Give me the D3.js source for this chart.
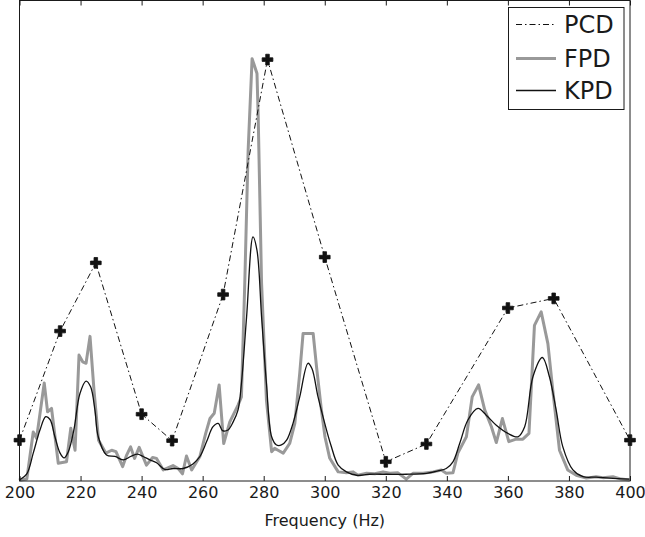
<!DOCTYPE html>
<html>
<head>
<meta charset="utf-8">
<script src="https://cdn.jsdelivr.net/npm/d3@7"></script>
<style>
  html, body { margin: 0; padding: 0; background: #fff; }
  svg { display: block; font-family: "DejaVu Sans", sans-serif; }
</style>
</head>
<body>
<svg id="chart" width="645" height="537"></svg>
<script>
// Frequency ticks along the bottom and top edges
const xTicks = [200, 220, 240, 260, 280, 300, 320, 340, 360, 380, 400];

// PCD: coarse estimate at a few frequencies (Hz, relative amplitude)
const pcdHz  = [200, 213.3, 225, 240, 250, 266.7, 281.25, 300, 320, 333.3, 360, 375, 400];
const pcdVal = [8.5, 31.2, 45.4, 13.9, 8.4, 38.8, 87.7, 46.6, 4.0, 7.7, 36.0, 38.0, 8.5];

// FPD: fine-grained periodogram
const fpdHz = [200, 200.5, 202.4, 204.5, 205.6, 208.1, 209.2, 210.5, 212.7, 215.4, 216.8, 218.2,
  219.5, 220.7, 221.8, 223.1, 224.4, 225.9, 228.3, 230.2, 231.6, 233.8, 235.1, 236.4, 237.7,
  239.2, 241.6, 243.6, 244.9, 247.1, 250.3, 252.0, 253.4, 254.7, 256.4, 259.1, 261.0, 262.4,
  263.8, 265.4, 266.9, 268.9, 271.6, 272.7, 273.8, 274.9, 276.2, 277.8, 278.2, 279.3, 280.9,
  282.6, 283.6, 284.7, 286.4, 288.5, 290.2, 291.8, 292.9, 296.2, 297.3, 298.9, 300.1, 301.6,
  304.4, 307.1, 309.3, 310.9, 313.7, 316.4, 319.1, 321.3, 324.0, 326.7, 328.9, 332.2, 335.5,
  338.2, 339.8, 342.0, 343.6, 346.4, 348.3, 350.4, 352.4, 354.6, 356.2, 358.2, 360.3, 362.7,
  364.9, 366.9, 368.7, 370.9, 373.1, 374.7, 376.9, 379.6, 382.4, 385.7, 388.9, 391.1, 394.4,
  397.1, 399.8];
const fpdVal = [0.6, 0.2, 0.4, 10.2, 8.9, 20.4, 14.4, 15.1, 3.7, 4.0, 11.0, 6.4,
  26.2, 24.8, 24.5, 30.1, 18.9, 8.5, 5.8, 6.4, 6.1, 3.0, 5.4, 7.1, 4.7,
  7.0, 3.3, 4.9, 4.7, 2.3, 3.2, 2.6, 1.5, 5.2, 2.3, 5.1, 9.9, 13.0,
  14.1, 20.0, 7.8, 12.3, 15.8, 17.5, 41.2, 68.8, 87.9, 84.8, 75.7, 41.2, 16.8,
  6.1, 6.8, 6.4, 5.8, 7.8, 12.0, 22.4, 30.7, 30.7, 23.8, 14.8, 9.1, 4.8,
  1.9, 1.7, 1.9, 1.2, 1.6, 1.5, 1.9, 1.6, 1.7, 0.4, 1.6, 1.6, 1.9,
  2.3, 1.6, 1.7, 5.8, 9.2, 17.5, 20.0, 14.8, 11.3, 8.0, 13.0, 8.2, 8.7,
  8.7, 9.9, 32.4, 35.2, 28.6, 18.9, 6.4, 2.3, 1.2, 0.6, 0.9, 0.7, 0.9,
  0.4, 0.2];

// KPD: smoothed spectral estimate
const kpdHz = [200, 202.4, 204.5, 206.7, 208.6, 210.0, 211.6, 213.3, 214.6, 216.0, 217.8, 219.8,
  221.8, 223.3, 224.7, 225.8, 228.5, 231.3, 234.0, 236.4, 238.6, 240.5, 242.7, 244.9, 247.6,
  250.3, 253.6, 256.7, 259.1, 261.3, 263.4, 265.1, 266.5, 268.3, 270.0, 271.6, 272.7, 274.4,
  276.5, 277.8, 279.3, 280.9, 282.6, 284.2, 285.8, 287.5, 289.6, 291.8, 294.5, 295.8, 297.8,
  300.0, 302.0, 304.4, 307.1, 310.4, 314.7, 320.2, 326.7, 333.3, 337.1, 339.8, 342.0, 344.2,
  346.9, 350.2, 352.9, 356.2, 360.0, 363.3, 365.5, 368.2, 371.3, 373.6, 375.8, 378.0, 381.3,
  384.6, 388.9, 393.3, 399.8];
const kpdVal = [0.2, 1.5, 5.8, 10.6, 13.4, 12.8, 9.2, 5.8, 4.8, 6.1, 10.6, 18.2,
  20.8, 19.6, 14.8, 9.2, 5.4, 5.1, 4.4, 5.1, 5.6, 5.1, 4.4, 3.8, 2.4,
  2.6, 2.6, 3.5, 5.1, 8.2, 11.3, 12.0, 10.5, 10.6, 12.3, 14.8, 20.3, 34.2,
  50.8, 48.0, 34.2, 20.3, 9.2, 7.5, 7.5, 8.5, 12.0, 17.5, 24.5, 23.4, 17.5,
  12.0, 7.5, 3.3, 1.9, 1.2, 1.4, 1.4, 1.4, 1.6, 2.1, 2.6, 4.0, 7.8,
  12.7, 15.1, 13.7, 11.6, 9.9, 9.2, 11.3, 21.7, 25.7, 21.7, 14.8, 7.1, 2.3,
  0.9, 0.8, 0.6, 0.4];

const seriesNames = ["PCD", "FPD", "KPD"];

const svg = d3.select("#chart");
const plot = { left: 19.5, right: 630, top: 0.5, bottom: 481 };
const ink = "#1a1a1a";

const x = d3.scaleLinear().domain([200, 400]).range([plot.left, plot.right]);
const y = d3.scaleLinear().domain([0, 100]).range([plot.bottom, plot.top]);

const toPoints = (hz, vals) => hz.map((h, i) => [h, vals[i]]);
const line = d3.line().x(d => x(d[0])).y(d => y(d[1]));
const smoothLine = d3.line().x(d => x(d[0])).y(d => y(d[1]))
  .curve(d3.curveCatmullRom.alpha(0.5));

// Spectral curves
svg.append("path")
  .datum(toPoints(fpdHz, fpdVal))
  .attr("d", line)
  .attr("fill", "none")
  .attr("stroke", "#999999")
  .attr("stroke-width", 3)
  .attr("stroke-linejoin", "round");

svg.append("path")
  .datum(toPoints(kpdHz, kpdVal))
  .attr("d", smoothLine)
  .attr("fill", "none")
  .attr("stroke", "#111")
  .attr("stroke-width", 1.3)
  .attr("stroke-linejoin", "round");

const pcdPts = toPoints(pcdHz, pcdVal);
svg.append("path")
  .datum(pcdPts)
  .attr("d", line)
  .attr("fill", "none")
  .attr("stroke", "#111")
  .attr("stroke-width", 1)
  .attr("stroke-dasharray", "6,3,1.5,3");

const cross = d3.symbol().type(d3.symbolCross).size(64);
svg.append("g")
  .selectAll("path")
  .data(pcdPts)
  .join("path")
  .attr("d", cross)
  .attr("transform", d => `translate(${x(d[0])},${y(d[1])})`)
  .attr("fill", "#111")
  .attr("stroke", "#111")
  .attr("stroke-width", 0.8);

// Axes with inward ticks
const bottomAxis = d3.axisBottom(x).tickValues(xTicks)
  .tickSizeInner(-5).tickSizeOuter(0).tickPadding(6);
const gB = svg.append("g")
  .attr("transform", `translate(0,${plot.bottom})`)
  .call(bottomAxis);
gB.selectAll("text").attr("font-size", 16).attr("fill", ink)
  .attr("font-family", "DejaVu Sans, sans-serif");

const topAxis = d3.axisTop(x).tickValues(xTicks)
  .tickSizeInner(-5).tickSizeOuter(0).tickFormat("");
svg.append("g")
  .attr("transform", `translate(0,${plot.top})`)
  .call(topAxis);

svg.selectAll(".domain").remove();
svg.selectAll(".tick line").attr("stroke", ink);

// Plot frame
svg.append("rect")
  .attr("x", plot.left).attr("y", plot.top)
  .attr("width", plot.right - plot.left)
  .attr("height", plot.bottom - plot.top)
  .attr("fill", "none")
  .attr("stroke", ink)
  .attr("stroke-width", 1);

// Axis title
svg.append("text")
  .attr("x", (plot.left + plot.right) / 2)
  .attr("y", 525.5)
  .attr("text-anchor", "middle")
  .attr("font-size", 16)
  .attr("fill", ink)
  .text("Frequency (Hz)");

// Legend
const legend = svg.append("g");
legend.append("rect")
  .attr("x", 508.5).attr("y", 7.5)
  .attr("width", 115.5).attr("height", 102)
  .attr("fill", "#fff")
  .attr("stroke", ink)
  .attr("stroke-width", 1);

const legendRows = [24.5, 58.5, 90.5];
const legendStyles = [
  { stroke: "#111", width: 1, dash: "6,3,1.5,3" },
  { stroke: "#999999", width: 3, dash: null },
  { stroke: "#111", width: 1.3, dash: null }
];
seriesNames.forEach((name, i) => {
  const s = legendStyles[i];
  legend.append("line")
    .attr("x1", 516).attr("x2", 556)
    .attr("y1", legendRows[i]).attr("y2", legendRows[i])
    .attr("stroke", s.stroke)
    .attr("stroke-width", s.width)
    .attr("stroke-dasharray", s.dash);
  legend.append("text")
    .attr("x", 564)
    .attr("y", legendRows[i])
    .attr("dy", "0.36em")
    .attr("font-size", 24)
    .attr("fill", ink)
    .text(name);
});
</script>
</body>
</html>
